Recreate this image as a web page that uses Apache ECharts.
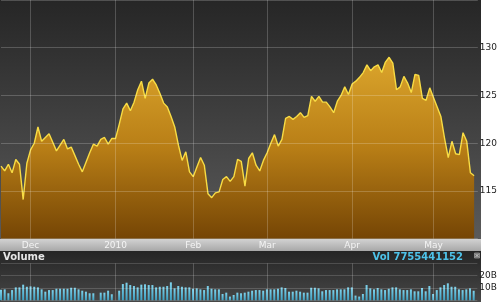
<!DOCTYPE html>
<html><head><meta charset="utf-8">
<script src="https://cdn.jsdelivr.net/npm/echarts@6/dist/echarts.min.js"></script>
<style>html,body{margin:0;padding:0;background:#fff}#c{width:500px;height:302px}</style>
</head><body><div id="c"></div>
<script>
const dates = [
'2009-11-19','2009-11-20','2009-11-23','2009-11-24','2009-11-25','2009-11-26','2009-11-27','2009-11-30',
'2009-12-01','2009-12-02','2009-12-03','2009-12-04','2009-12-07','2009-12-08','2009-12-09','2009-12-10','2009-12-11',
'2009-12-14','2009-12-15','2009-12-16','2009-12-17','2009-12-18','2009-12-21','2009-12-22','2009-12-23','2009-12-24',
'2009-12-25','2009-12-28','2009-12-29','2009-12-30','2009-12-31',
'2010-01-01','2010-01-04','2010-01-05','2010-01-06','2010-01-07','2010-01-08','2010-01-11','2010-01-12','2010-01-13',
'2010-01-14','2010-01-15','2010-01-18','2010-01-19','2010-01-20','2010-01-21','2010-01-22','2010-01-25','2010-01-26',
'2010-01-27','2010-01-28','2010-01-29',
'2010-02-01','2010-02-02','2010-02-03','2010-02-04','2010-02-05','2010-02-08','2010-02-09','2010-02-10','2010-02-11',
'2010-02-12','2010-02-15','2010-02-16','2010-02-17','2010-02-18','2010-02-19','2010-02-22','2010-02-23','2010-02-24',
'2010-02-25','2010-02-26',
'2010-03-01','2010-03-02','2010-03-03','2010-03-04','2010-03-05','2010-03-08','2010-03-09','2010-03-10','2010-03-11',
'2010-03-12','2010-03-15','2010-03-16','2010-03-17','2010-03-18','2010-03-19','2010-03-22','2010-03-23','2010-03-24',
'2010-03-25','2010-03-26','2010-03-29','2010-03-30','2010-03-31',
'2010-04-01','2010-04-02','2010-04-05','2010-04-06','2010-04-07','2010-04-08','2010-04-09','2010-04-12','2010-04-13',
'2010-04-14','2010-04-15','2010-04-16','2010-04-19','2010-04-20','2010-04-21','2010-04-22','2010-04-23','2010-04-26',
'2010-04-27','2010-04-28','2010-04-29','2010-04-30',
'2010-05-03','2010-05-04','2010-05-05','2010-05-06','2010-05-07','2010-05-10','2010-05-11','2010-05-12','2010-05-13',
'2010-05-14','2010-05-17','2010-05-18'
];
const prices = [
117.6,117.1,117.8,116.9,118.3,117.8,114.1,117.9,119.3,120.0,121.7,120.2,120.6,121.0,120.1,119.2,119.8,120.4,119.4,119.6,
118.7,117.8,117.0,118.0,119.0,119.9,119.7,120.4,120.6,119.9,120.5,120.5,122.0,123.6,124.2,123.4,124.3,125.6,126.5,124.7,
126.3,126.7,126.1,125.2,124.2,123.8,122.8,121.7,119.8,118.2,119.1,117.0,116.5,117.5,118.5,117.7,114.7,114.3,114.8,114.9,
116.2,116.5,116.0,116.5,118.3,118.1,115.5,118.4,119.0,117.7,117.1,118.2,119.0,120.0,120.9,119.7,120.4,122.6,122.8,122.5,
122.8,123.2,122.7,122.9,124.9,124.4,124.9,124.3,124.3,123.8,123.2,124.4,125.0,125.9,125.1,126.2,126.5,126.9,127.4,128.2,
127.6,128.0,128.2,127.4,128.5,129.0,128.4,125.6,125.9,127.0,126.3,125.3,127.2,127.1,124.7,124.5,125.8,124.8,123.8,122.8,
120.5,118.5,120.2,118.9,118.8,121.1,120.2,116.9,116.6
];
// volume in billions
const volumes = [
8.5,8.9,5.7,8.3,10.5,10.5,12.7,11.0,11.3,11.0,10.5,8.9,7.0,8.3,8.3,9.4,9.4,9.4,9.4,10.2,
10.2,8.9,7.8,7.0,5.7,5.7,null,6.2,6.2,7.8,4.9,null,7.8,13.2,14.3,12.4,11.6,10.5,12.7,13.0,
12.4,12.4,10.5,11.0,11.0,11.6,14.6,9.7,11.6,11.0,10.5,10.5,9.4,9.7,8.9,8.3,11.6,9.4,8.9,8.9,
5.1,6.2,3.0,4.3,6.2,5.7,6.2,7.0,7.8,8.3,8.3,7.8,8.9,8.9,8.9,9.4,10.5,10.0,7.0,7.0,
7.8,7.0,6.2,6.2,10.2,10.2,9.7,7.3,8.3,8.3,8.3,8.9,8.9,8.9,10.5,10.5,3.8,3.0,5.1,12.4,
9.7,8.9,10.0,8.9,8.3,9.4,10.5,10.5,8.9,8.3,8.3,8.9,7.3,7.3,10.0,7.3,11.6,5.1,8.3,10.5,
12.4,13.8,11.0,11.0,8.9,8.3,8.9,9.7,7.755441152
];
const tickDates = ['2009-12-01','2010-01-01','2010-02-01','2010-03-01','2010-04-01','2010-05-03'];
const tickLabels = ['Dec','2010','Feb','Mar','Apr','May'];
const priceTicks = [115,120,125,130];

const chart = echarts.init(document.getElementById('c'), null, {renderer:'canvas'});
const isTick = (i, v) => tickDates.indexOf(v) >= 0;
const lastVol = volumes[volumes.length-1];
const gridLine = 'rgba(255,255,255,0.2)';
const fontFam = 'DejaVu Sans';

chart.setOption({
  animation:false,
  backgroundColor:'#ffffff',
  graphic:[
    {type:'rect', z:-100, shape:{x:0,y:0,width:481,height:239},
     style:{fill:new echarts.graphic.LinearGradient(0,0,0,1,[{offset:0,color:'#262626'},{offset:1,color:'#5a5a5a'}])}},
    {type:'rect', z:-100, shape:{x:0,y:239,width:481,height:12},
     style:{fill:new echarts.graphic.LinearGradient(0,0,0,1,[{offset:0,color:'#d2d2d2'},{offset:1,color:'#a8a8a8'}])}},
    {type:'rect', z:-100, shape:{x:0,y:251,width:481,height:51},
     style:{fill:new echarts.graphic.LinearGradient(0,0,0,1,[{offset:0,color:'#252525'},{offset:1,color:'#474747'}])}},
    {type:'text', z:100, left:3, top:252,
     style:{text:'Volume', fill:'#e6e6e6', font:'bold 10px "DejaVu Sans"'}},
    {type:'text', z:100, right:37, top:252,
     style:{text:'Vol ' + Math.round(lastVol*1e9), fill:'#4ec3ea', font:'bold 10px "DejaVu Sans"'}},
    {type:'rect', z:100, shape:{x:474.5,y:253,width:5,height:5},
     style:{fill:'#6a6a6a', stroke:'#999', lineWidth:0.8}},
    {type:'line', z:101, shape:{x1:475.5,y1:254,x2:478.5,y2:257}, style:{stroke:'#ddd', lineWidth:0.8}},
    {type:'line', z:101, shape:{x1:478.5,y1:254,x2:475.5,y2:257}, style:{stroke:'#ddd', lineWidth:0.8}}
  ],
  grid:[
    {left:1, top:0, width:480, height:238.7},
    {left:1, top:263.4, width:480, height:36.9}
  ],
  xAxis:[
    {type:'category', gridIndex:0, data:dates, boundaryGap:false, max:129, z:3,
     axisLine:{show:false}, axisTick:{show:false},
     axisLabel:{interval:isTick, margin:2, fontSize:9, fontFamily:fontFam, color:'#f4f4f4',
       formatter:(v)=>{const k=tickDates.indexOf(v); return k>=0?tickLabels[k]:'';}},
     splitLine:{show:true, interval:isTick, lineStyle:{color:gridLine, width:1}}},
    {type:'category', gridIndex:1, data:dates, boundaryGap:false, max:129, z:3,
     axisLine:{show:false}, axisTick:{show:false}, axisLabel:{show:false},
     splitLine:{show:true, interval:isTick, lineStyle:{color:gridLine, width:1}}}
  ],
  yAxis:[
    {type:'value', gridIndex:0, position:'right', min:110, max:135, interval:5, z:3,
     axisLine:{show:false}, axisTick:{show:false},
     axisLabel:{margin:2, fontSize:9, fontFamily:fontFam, color:'#222', opacity:1,
       formatter:(v)=> priceTicks.indexOf(v)>=0 ? String(v) : ''},
     splitLine:{show:true, lineStyle:{color:gridLine, width:1}}},
    {type:'value', gridIndex:1, position:'right', min:0, max:30, interval:10, z:3,
     axisLine:{show:false}, axisTick:{show:false},
     axisLabel:{margin:2, fontSize:9, fontFamily:fontFam, color:'#222',
       formatter:(v)=> (v===10||v===20) ? v+'B' : ''},
     splitLine:{show:true, lineStyle:{color:'rgba(255,255,255,0.16)', width:1}}}
  ],
  series:[
    {type:'line', xAxisIndex:0, yAxisIndex:0, data:prices, showSymbol:false, z:2,
     lineStyle:{color:'#f8dc44', width:1.4},
     areaStyle:{origin:'start', opacity:1, color:new echarts.graphic.LinearGradient(0,0,0,1,[
       {offset:0,color:'#dba52c'},{offset:0.5,color:'#b87e16'},{offset:1,color:'#754505'}])}},
    {type:'bar', xAxisIndex:1, yAxisIndex:1, data:volumes, barWidth:2, z:2,
     itemStyle:{color:new echarts.graphic.LinearGradient(0,0,0,1,[{offset:0,color:'#7fd3ec'},{offset:1,color:'#3d9fc0'}])}}
  ]
});
</script></body></html>
